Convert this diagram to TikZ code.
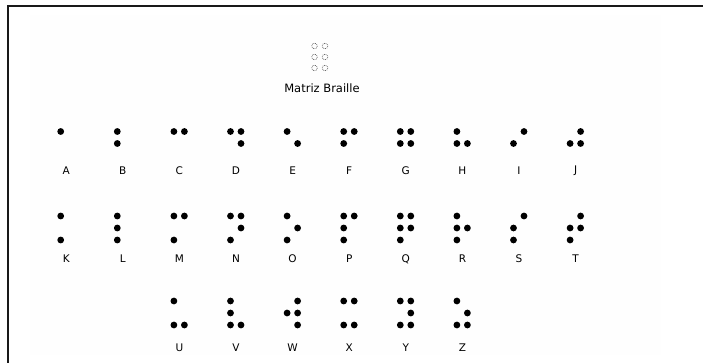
\documentclass[tikz,border=0pt]{standalone}
\usepackage{fontspec}
\setmainfont{DejaVu Sans}
\newcommand\brcell[5]{%
  \foreach \d in {#4}{%
    \pgfmathsetmacro\dx{ifthenelse(\d>3,10.5,0)}%
    \pgfmathsetmacro\dy{12*mod(\d-1,3)}%
    \fill[brdot] (#1+\dx,#2+\dy) circle (3.4);%
  }%
  \node[cellabel] (lbl#5) at (#1+5.5,#3) {#5};%
}
\begin{document}
\begin{tikzpicture}[x=1pt,y=-1pt,
  brdot/.style={fill=black},
  cellabel/.style={font=\fontsize{10.5}{12}\selectfont, inner sep=0pt, anchor=center},
  emptydot/.style={draw=black!70, densely dotted, line width=0.7pt},
  titlelabel/.style={font=\fontsize{11.5}{13}\selectfont, inner sep=0pt, anchor=center}]
\useasboundingbox (0,0) rectangle (703,363);
\fill[white] (0,0) rectangle (703,363);
\fill[black!0.5] (30,15) rectangle (661,355);
\draw[line width=2pt, black!90] (8,363) -- (8,6) -- (703,6);
% Braille matrix
\foreach \cx in {314.5,325}{\foreach \cy in {46,57,68}{\draw[emptydot] (\cx,\cy) circle (2.8);}}
\node[titlelabel] (title) at (322,88) {Matriz Braille};
% row 1
\brcell{60.7}{131.5}{171}{1}{A}
\brcell{117.3}{131.5}{171}{1,2}{B}
\brcell{173.9}{131.5}{171}{1,4}{C}
\brcell{230.5}{131.5}{171}{1,4,5}{D}
\brcell{287.1}{131.5}{171}{1,5}{E}
\brcell{343.7}{131.5}{171}{1,2,4}{F}
\brcell{400.3}{131.5}{171}{1,2,4,5}{G}
\brcell{456.9}{131.5}{171}{1,2,5}{H}
\brcell{513.5}{131.5}{171}{2,4}{I}
\brcell{570.1}{131.5}{171}{2,4,5}{J}
% row 2
\brcell{60.7}{216}{259}{1,3}{K}
\brcell{117.3}{216}{259}{1,2,3}{L}
\brcell{173.9}{216}{259}{1,3,4}{M}
\brcell{230.5}{216}{259}{1,3,4,5}{N}
\brcell{287.1}{216}{259}{1,3,5}{O}
\brcell{343.7}{216}{259}{1,2,3,4}{P}
\brcell{400.3}{216}{259}{1,2,3,4,5}{Q}
\brcell{456.9}{216}{259}{1,2,3,5}{R}
\brcell{513.5}{216}{259}{2,3,4}{S}
\brcell{570.1}{216}{259}{2,3,4,5}{T}
% row 3
\brcell{173.9}{301}{348}{1,3,6}{U}
\brcell{230.5}{301}{348}{1,2,3,6}{V}
\brcell{287.1}{301}{348}{2,4,5,6}{W}
\brcell{343.7}{301}{348}{1,3,4,6}{X}
\brcell{400.3}{301}{348}{1,3,4,5,6}{Y}
\brcell{456.9}{301}{348}{1,3,5,6}{Z}
\end{tikzpicture}
\end{document}
